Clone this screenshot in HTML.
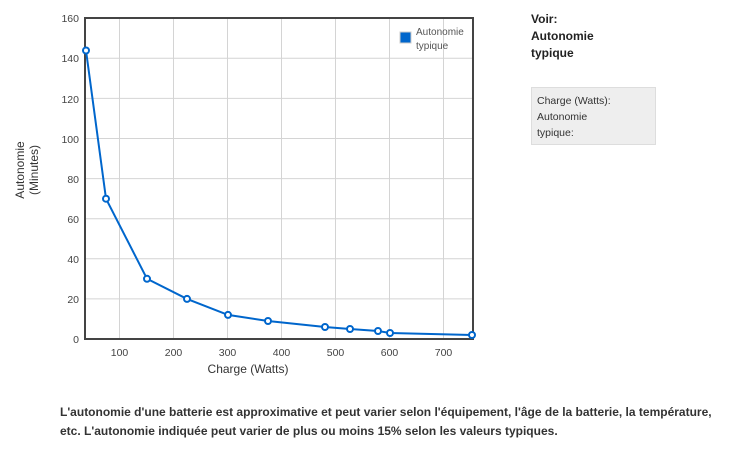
<!DOCTYPE html>
<html><head><meta charset="utf-8"><style>
body{margin:0;background:#fff;width:734px;height:449px;overflow:hidden;font-family:"Liberation Sans",Arial,sans-serif;position:relative}
.t{position:absolute}
</style></head><body>
<svg width="734" height="449" style="position:absolute;left:0;top:0" font-family="Liberation Sans, Arial, sans-serif">
<g stroke="#d4d4d4" stroke-width="1">
<line x1="85" x2="473" y1="298.9" y2="298.9"/><line x1="85" x2="473" y1="258.8" y2="258.8"/>
<line x1="85" x2="473" y1="218.7" y2="218.7"/><line x1="85" x2="473" y1="178.6" y2="178.6"/>
<line x1="85" x2="473" y1="138.5" y2="138.5"/><line x1="85" x2="473" y1="98.4" y2="98.4"/>
<line x1="85" x2="473" y1="58.3" y2="58.3"/>
<line y1="18" y2="339" x1="119.5" x2="119.5"/><line y1="18" y2="339" x1="173.5" x2="173.5"/>
<line y1="18" y2="339" x1="227.5" x2="227.5"/><line y1="18" y2="339" x1="281.5" x2="281.5"/>
<line y1="18" y2="339" x1="335.5" x2="335.5"/><line y1="18" y2="339" x1="389.5" x2="389.5"/>
<line y1="18" y2="339" x1="443.5" x2="443.5"/>
</g>
<rect x="85" y="18" width="388" height="321" fill="none" stroke="#444" stroke-width="2"/>
<polyline fill="none" stroke="#0066cc" stroke-width="2" points="86,50.5 106,198.7 147,278.8 187,298.9 228,314.9 268,321 325,327 350,329 378,331 390,333 472,335"/>
<g fill="#fff" stroke="#0066cc" stroke-width="2">
<circle cx="86" cy="50.5" r="3"/><circle cx="106" cy="198.7" r="3"/><circle cx="147" cy="278.8" r="3"/>
<circle cx="187" cy="298.9" r="3"/><circle cx="228" cy="314.9" r="3"/><circle cx="268" cy="321" r="3"/>
<circle cx="325" cy="327" r="3"/><circle cx="350" cy="329" r="3"/><circle cx="378" cy="331" r="3"/>
<circle cx="390" cy="333" r="3"/><circle cx="472" cy="335" r="3"/>
</g>
<g font-size="10.5" fill="#444" text-anchor="end">
<text x="79" y="343">0</text><text x="79" y="303">20</text><text x="79" y="263">40</text>
<text x="79" y="223">60</text><text x="79" y="183">80</text><text x="79" y="143">100</text>
<text x="79" y="103">120</text><text x="79" y="62">140</text><text x="79" y="22">160</text>
</g>
<g font-size="10.5" fill="#444" text-anchor="middle">
<text x="119.5" y="356">100</text><text x="173.5" y="356">200</text><text x="227.5" y="356">300</text>
<text x="281.5" y="356">400</text><text x="335.5" y="356">500</text><text x="389.5" y="356">600</text>
<text x="443.5" y="356">700</text>
</g>
<text x="248" y="373" font-size="12" fill="#333" text-anchor="middle">Charge (Watts)</text>
<g transform="translate(24,170) rotate(-90)" font-size="12" fill="#333" text-anchor="middle">
<text x="0" y="0">Autonomie</text><text x="0" y="14">(Minutes)</text></g>
<rect x="400" y="32" width="11" height="11" fill="#0066cc" stroke="#ccc" stroke-width="1"/>
<text x="416" y="35" font-size="10" fill="#555">Autonomie</text>
<text x="416" y="49" font-size="10" fill="#555">typique</text>
</svg>
<div class="t" style="left:531px;top:11px;font-size:12px;font-weight:bold;color:#222;line-height:17px">Voir:<br>Autonomie<br>typique</div>
<div class="t" style="left:531px;top:87px;background:#eee;border:1px solid #ddd;padding:0 0 0 5px;font-size:10.5px;color:#333;line-height:16px;padding-top:5px;box-sizing:border-box;width:125px;height:58px">Charge (Watts):<br>Autonomie<br>typique:</div>
<div class="t" style="left:60px;top:403px;width:670px;font-size:12px;font-weight:bold;color:#333;line-height:19px">L'autonomie d'une batterie est approximative et peut varier selon l'équipement, l'âge de la batterie, la température, etc. L'autonomie indiquée peut varier de plus ou moins 15% selon les valeurs typiques.</div>
</body></html>
